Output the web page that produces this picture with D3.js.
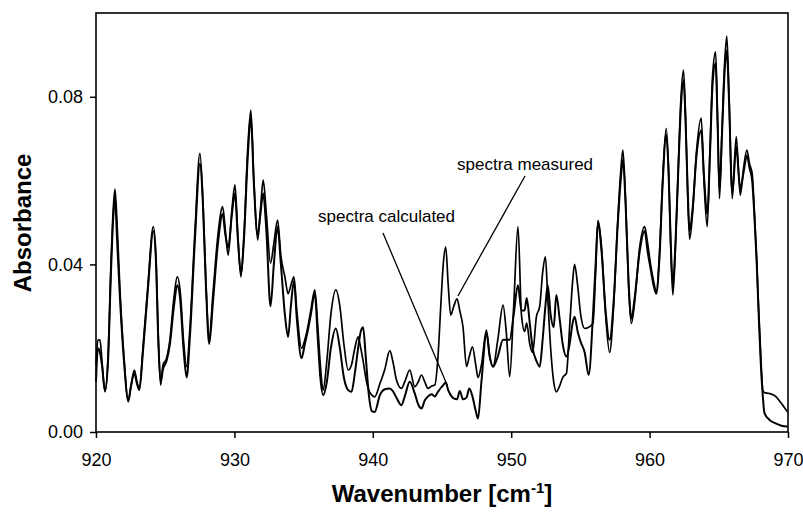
<!DOCTYPE html>
<html>
<head>
<meta charset="utf-8">
<script src="https://cdn.jsdelivr.net/npm/d3@7"></script>
<style>
  body { margin: 0; background: #fff; }
  svg text { font-family: "Liberation Sans", Arial, Helvetica, sans-serif; fill: #000; }
</style>
</head>
<body>
<div id="graph"></div>
<script>
// chart data
const wavenumber = [
  920.00, 920.14, 920.29, 920.43, 920.65, 920.87, 921.08, 921.26, 921.37, 921.52,
  921.73, 922.02, 922.33, 922.53, 922.77, 922.96, 923.13, 923.39, 923.75, 924.14,
  924.33, 924.51, 924.67, 924.84, 925.10, 925.34, 925.63, 925.87, 926.10, 926.32,
  926.55, 926.79, 927.15, 927.51, 927.73, 927.94, 928.18, 928.45, 928.81, 929.15,
  929.35, 929.55, 929.82, 930.04, 930.25, 930.47, 930.69, 930.97, 931.19, 931.41,
  931.68, 931.88, 932.08, 932.31, 932.61, 932.85, 933.12, 933.36, 933.65, 933.88,
  934.08, 934.30, 934.51, 934.85, 935.09, 935.26, 935.52, 935.81, 936.03, 936.21,
  936.41, 936.68, 936.97, 937.33, 937.62, 937.91, 938.22, 938.46, 938.70, 938.94,
  939.13, 939.30, 939.49, 939.71, 939.93, 940.14, 940.51, 940.87, 941.23, 941.44,
  941.71, 942.07, 942.31, 942.67, 943.03, 943.29, 943.52, 943.75, 943.99, 944.26,
  944.48, 944.69, 944.91, 945.09, 945.27, 945.45, 945.63, 945.85, 946.09, 946.28,
  946.52, 946.77, 946.97, 947.20, 947.44, 947.60, 947.85, 948.21, 948.45, 948.69,
  949.03, 949.41, 949.64, 949.89, 950.18, 950.49, 950.74, 950.97, 951.12, 951.34,
  951.55, 951.82, 952.06, 952.27, 952.47, 952.64, 952.85, 953.07, 953.26, 953.50,
  953.72, 953.99, 954.22, 954.44, 954.58, 954.80, 955.02, 955.31, 955.60, 955.91,
  956.10, 956.27, 956.53, 956.82, 957.11, 957.40, 957.69, 957.91, 958.07, 958.27,
  958.48, 958.68, 958.92, 959.28, 959.64, 959.86, 960.07, 960.29, 960.48, 960.72,
  960.94, 961.20, 961.37, 961.52, 961.68, 961.88, 962.09, 962.27, 962.45, 962.60,
  962.74, 962.89, 963.10, 963.39, 963.73, 963.93, 964.16, 964.37, 964.55, 964.77,
  964.91, 965.05, 965.23, 965.42, 965.58, 965.74, 965.97, 966.26, 966.55, 966.79,
  967.03, 967.22, 967.41, 967.58, 967.73, 967.87, 968.01, 968.18, 968.30, 968.66,
  969.15, 969.53, 969.96
];

const measured = [
  0.016, 0.022, 0.022, 0.017, 0.0096, 0.018, 0.040, 0.054, 0.058, 0.050,
  0.034, 0.018, 0.0072, 0.011, 0.0148, 0.012, 0.0104, 0.020, 0.035, 0.049,
  0.042, 0.022, 0.0112, 0.016, 0.0176, 0.022, 0.032, 0.037, 0.033, 0.022,
  0.0156, 0.025, 0.048, 0.0665, 0.055, 0.036, 0.0227, 0.033, 0.047, 0.0538,
  0.048, 0.0422, 0.053, 0.059, 0.047, 0.037, 0.047, 0.068, 0.0768, 0.060,
  0.0458, 0.053, 0.0601, 0.052, 0.0403, 0.045, 0.0506, 0.042, 0.037, 0.033,
  0.035, 0.037, 0.029, 0.020, 0.022, 0.0243, 0.029, 0.0339, 0.025, 0.016,
  0.010, 0.017, 0.028, 0.0339, 0.030, 0.021, 0.0148, 0.016, 0.020, 0.0227,
  0.020, 0.017, 0.013, 0.010, 0.0088, 0.0084, 0.0115, 0.015, 0.0194, 0.017,
  0.0124, 0.0104, 0.012, 0.0148, 0.0108, 0.012, 0.0136, 0.012, 0.0104, 0.011,
  0.0112, 0.017, 0.030, 0.040, 0.0442, 0.035, 0.0279, 0.030, 0.0318, 0.029,
  0.025, 0.0156, 0.018, 0.0203, 0.016, 0.013, 0.016, 0.0243, 0.018, 0.0156,
  0.022, 0.0303, 0.024, 0.0132, 0.030, 0.049, 0.028, 0.024, 0.026, 0.021,
  0.019, 0.0275, 0.030, 0.038, 0.0418, 0.032, 0.020, 0.012, 0.0096, 0.011,
  0.013, 0.014, 0.025, 0.036, 0.040, 0.035, 0.028, 0.0247, 0.025, 0.026,
  0.038, 0.0505, 0.044, 0.028, 0.019, 0.030, 0.050, 0.062, 0.0673, 0.055,
  0.035, 0.0259, 0.031, 0.044, 0.049, 0.045, 0.040, 0.036, 0.0335, 0.043,
  0.060, 0.0725, 0.063, 0.045, 0.0327, 0.045, 0.065, 0.080, 0.0864, 0.075,
  0.058, 0.046, 0.052, 0.067, 0.0749, 0.060, 0.049, 0.068, 0.085, 0.0907,
  0.075, 0.0557, 0.072, 0.088, 0.0945, 0.080, 0.0557, 0.0705, 0.0565, 0.063,
  0.0673, 0.064, 0.0617, 0.052, 0.042, 0.030, 0.020, 0.010, 0.0094, 0.0092,
  0.0084, 0.0068, 0.0048
];

const calculated = [
  0.012, 0.020, 0.019, 0.016, 0.0098, 0.017, 0.038, 0.052, 0.056, 0.046,
  0.032, 0.017, 0.0075, 0.011, 0.014, 0.0115, 0.010, 0.019, 0.034, 0.048,
  0.041, 0.021, 0.012, 0.015, 0.017, 0.021, 0.030, 0.035, 0.031, 0.020,
  0.013, 0.023, 0.046, 0.064, 0.054, 0.035, 0.021, 0.031, 0.045, 0.052,
  0.047, 0.044, 0.052, 0.057, 0.046, 0.038, 0.046, 0.066, 0.075, 0.059,
  0.047, 0.052, 0.057, 0.048, 0.030, 0.040, 0.049, 0.040, 0.028, 0.0227,
  0.030, 0.036, 0.027, 0.0176, 0.021, 0.0235, 0.028, 0.033, 0.022, 0.013,
  0.0088, 0.012, 0.020, 0.0247, 0.020, 0.013, 0.0100, 0.0096, 0.014, 0.020,
  0.024, 0.025, 0.018, 0.009, 0.005, 0.0048, 0.0088, 0.0102, 0.0104, 0.0098,
  0.0082, 0.0064, 0.0085, 0.012, 0.0092, 0.0065, 0.0056, 0.0075, 0.0085, 0.009,
  0.0085, 0.0095, 0.0105, 0.0112, 0.0118, 0.010, 0.0088, 0.008, 0.0078, 0.0098,
  0.0078, 0.0082, 0.0104, 0.0085, 0.005, 0.0032, 0.012, 0.0235, 0.018, 0.0156,
  0.018, 0.022, 0.022, 0.022, 0.028, 0.035, 0.029, 0.029, 0.032, 0.026,
  0.020, 0.017, 0.0156, 0.022, 0.030, 0.035, 0.028, 0.025, 0.0327, 0.027,
  0.021, 0.018, 0.021, 0.026, 0.0275, 0.024, 0.0215, 0.019, 0.0136, 0.028,
  0.040, 0.050, 0.043, 0.029, 0.022, 0.031, 0.049, 0.060, 0.065, 0.054,
  0.036, 0.027, 0.032, 0.043, 0.048, 0.043, 0.039, 0.035, 0.033, 0.042,
  0.059, 0.071, 0.062, 0.046, 0.035, 0.046, 0.064, 0.078, 0.084, 0.074,
  0.059, 0.048, 0.053, 0.066, 0.072, 0.061, 0.052, 0.067, 0.083, 0.088,
  0.074, 0.058, 0.071, 0.086, 0.091, 0.079, 0.057, 0.068, 0.058, 0.062,
  0.066, 0.063, 0.060, 0.051, 0.041, 0.029, 0.018, 0.0085, 0.0045, 0.0029,
  0.002, 0.0015, 0.0013
];

const xTicks = [920, 930, 940, 950, 960, 970];
const yTicks = [0.00, 0.04, 0.08];

const width = 803, height = 512;
const plot = { left: 96, right: 788, top: 13, bottom: 432 };

let svg = d3.select("#graph")
    .append("svg")
    .attr("width", width)
    .attr("height", height);

let x = d3.scaleLinear()
    .domain([920, 970])
    .range([plot.left, plot.right]);

let y = d3.scaleLinear()
    .domain([0, 0.1])
    .range([plot.bottom, plot.top]);

// x axis
let xAxis = svg.append("g")
    .attr("transform", `translate(0, ${plot.bottom})`)
    .call(d3.axisBottom(x).tickValues(xTicks).tickSize(6).tickSizeOuter(0).tickFormat(d3.format("d")));
xAxis.select(".domain").remove();
xAxis.selectAll("line").attr("stroke", "#000").attr("stroke-width", 1.5);
xAxis.selectAll("text")
    .attr("y", 21)
    .style("font-size", "18px");

// y axis
let yAxis = svg.append("g")
    .attr("transform", `translate(${plot.left}, 0)`)
    .call(d3.axisLeft(y).tickValues(yTicks).tickSize(6).tickSizeOuter(0).tickFormat(d3.format(".2f")));
yAxis.select(".domain").remove();
yAxis.selectAll("line").attr("stroke", "#000").attr("stroke-width", 1.5);
yAxis.selectAll("text")
    .attr("x", -13)
    .style("font-size", "18px");

// the two spectra
let line = d3.line()
    .x(function (d, i) { return x(wavenumber[i]); })
    .y(function (d) { return y(d); })
    .curve(d3.curveMonotoneX);

svg.append("path")
    .datum(calculated)
    .attr("fill", "none")
    .attr("stroke", "#000")
    .attr("stroke-width", 2)
    .attr("stroke-linejoin", "round")
    .attr("d", line);

svg.append("path")
    .datum(measured)
    .attr("fill", "none")
    .attr("stroke", "#000")
    .attr("stroke-width", 1.7)
    .attr("stroke-linejoin", "round")
    .attr("d", line);

// frame
svg.append("rect")
    .attr("x", plot.left)
    .attr("y", plot.top)
    .attr("width", plot.right - plot.left)
    .attr("height", plot.bottom - plot.top)
    .attr("fill", "none")
    .attr("stroke", "#000")
    .attr("stroke-width", 1.6);

// annotations with leader lines
svg.append("text")
    .attr("x", 457).attr("y", 170)
    .style("font-size", "17px")
    .text("spectra measured");
svg.append("line")
    .attr("x1", 525).attr("y1", 176)
    .attr("x2", x(946.15)).attr("y2", 296)
    .attr("stroke", "#000").attr("stroke-width", 1.3);

svg.append("text")
    .attr("x", 318).attr("y", 222)
    .style("font-size", "17px")
    .text("spectra calculated");
svg.append("line")
    .attr("x1", 383).attr("y1", 233)
    .attr("x2", x(945.4)).attr("y2", 386)
    .attr("stroke", "#000").attr("stroke-width", 1.3);

// y-axis label
svg.append("text")
    .attr("transform", `translate(31, 223) rotate(-90)`)
    .style("text-anchor", "middle")
    .style("font-size", "24px")
    .style("font-weight", 700)
    .text("Absorbance");

// x-axis label
let xLabel = svg.append("text")
    .attr("x", 442).attr("y", 502)
    .style("text-anchor", "middle")
    .style("font-size", "24px")
    .style("font-weight", 700);
xLabel.append("tspan").text("Wavenumber [cm");
xLabel.append("tspan").attr("dy", -9).style("font-size", "15px").text("-1");
xLabel.append("tspan").attr("dy", 9).text("]");
</script>
</body>
</html>
